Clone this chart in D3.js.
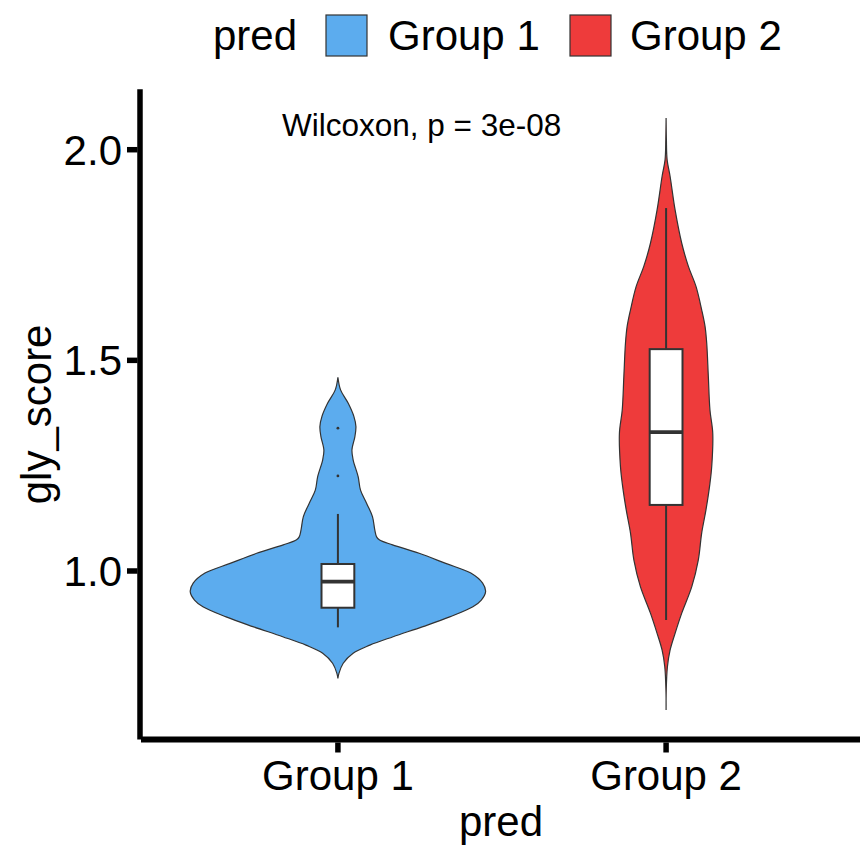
<!DOCTYPE html>
<html>
<head>
<meta charset="utf-8">
<script src="https://cdn.jsdelivr.net/npm/d3@7"></script>
<style>
  html, body { margin: 0; padding: 0; background: #fff; }
  svg { display: block; }
  text { font-family: "Liberation Sans", Arial, Helvetica, sans-serif; fill: #000; }
</style>
</head>
<body>
<svg id="chart" width="860" height="846"></svg>
<script>
// ---- data ----
const groups = ["Group 1", "Group 2"];
const groupFills = ["#5CACEE", "#EE3B3B"];
const yTicks = [1.0, 1.5, 2.0];

// violin outlines: gly_score values and relative density width (widest = 1)
const violin1Score = [1.460, 1.430, 1.398, 1.367, 1.343, 1.319, 1.287, 1.264, 1.224, 1.192, 1.161, 1.129, 1.097, 1.081, 1.074, 1.062, 1.042, 1.018, 0.995, 0.971, 0.951, 0.931, 0.915, 0.891, 0.868, 0.844, 0.824, 0.805, 0.781, 0.757, 0.745];
const violin1Width = [0, 0.018, 0.070, 0.108, 0.122, 0.115, 0.095, 0.103, 0.137, 0.153, 0.194, 0.234, 0.250, 0.262, 0.280, 0.370, 0.550, 0.730, 0.900, 0.980, 1.000, 0.971, 0.914, 0.757, 0.576, 0.374, 0.216, 0.103, 0.036, 0.007, 0];
const violin2Score = [2.075, 2.024, 1.976, 1.937, 1.857, 1.778, 1.723, 1.675, 1.620, 1.580, 1.541, 1.462, 1.382, 1.327, 1.248, 1.208, 1.145, 1.090, 1.026, 0.963, 0.900, 0.852, 0.812, 0.773, 0.717, 0.670];
const violin2Width = [0, 0.002, 0.007, 0.027, 0.061, 0.106, 0.151, 0.203, 0.241, 0.264, 0.275, 0.286, 0.297, 0.316, 0.309, 0.297, 0.270, 0.241, 0.218, 0.174, 0.106, 0.061, 0.027, 0.009, 0.001, 0];

// box plot statistics per group
const whiskerLow  = [0.8662, 0.8836];
const quart1      = [0.9128, 1.1568];
const medians     = [0.9746, 1.3295];
const quart3      = [1.0166, 1.5266];
const whiskerHigh = [1.1354, 1.8615];
const outliers    = [[1.2257, 1.339], []];

const testLabel = "Wilcoxon, p = 3e-08";

// ---- layout ----
const svg = d3.select("#chart");
const panel = { left: 141, right: 863, top: 89.3, bottom: 739.5 };
const ink = "#333333";
const baseSize = 42;

const x = d3.scalePoint().domain(groups).range([panel.left, panel.right]).padding(0.6);
const y = d3.scaleLinear().domain([0.6, 2.1434]).range([panel.bottom, panel.top]);
const step = x.step();
const halfMax = 0.45 * step;
const boxHalf = 0.05 * step;

function addText(g, str, tx, ty, size, anchor, rotate) {
  return g.append("text")
    .attr("transform", `translate(${tx},${ty})` + (rotate ? ` rotate(${rotate})` : ""))
    .attr("text-anchor", anchor)
    .style("font-size", size + "px")
    .text(str);
}

// ---- violins ----
const violins = [
  { score: violin1Score, width: violin1Width },
  { score: violin2Score, width: violin2Width }
];
const area = d3.area()
  .curve(d3.curveCatmullRom.alpha(0.5))
  .y(d => y(d.v));

violins.forEach((vl, i) => {
  const cx = x(groups[i]);
  const pts = vl.score.map((v, k) => ({ v, w: vl.width[k] }));
  area.x0(d => cx - d.w * halfMax).x1(d => cx + d.w * halfMax);
  svg.append("path")
    .datum(pts)
    .attr("d", area)
    .attr("fill", groupFills[i])
    .attr("stroke", ink)
    .attr("stroke-width", 1.2);
});

// ---- boxplots ----
groups.forEach((gname, i) => {
  const cx = x(gname);
  const g = svg.append("g");
  g.append("line")
    .attr("x1", cx).attr("x2", cx)
    .attr("y1", y(whiskerHigh[i])).attr("y2", y(quart3[i]))
    .attr("stroke", ink).attr("stroke-width", 2);
  g.append("line")
    .attr("x1", cx).attr("x2", cx)
    .attr("y1", y(quart1[i])).attr("y2", y(whiskerLow[i]))
    .attr("stroke", ink).attr("stroke-width", 2);
  g.append("rect")
    .attr("x", cx - boxHalf).attr("width", 2 * boxHalf)
    .attr("y", y(quart3[i])).attr("height", y(quart1[i]) - y(quart3[i]))
    .attr("fill", "#fff").attr("stroke", ink).attr("stroke-width", 2);
  g.append("line")
    .attr("x1", cx - boxHalf).attr("x2", cx + boxHalf)
    .attr("y1", y(medians[i])).attr("y2", y(medians[i]))
    .attr("stroke", ink).attr("stroke-width", 3.8);
  g.selectAll("circle").data(outliers[i]).join("circle")
    .attr("cx", cx).attr("cy", d => y(d)).attr("r", 1.4)
    .attr("fill", ink);
});

// ---- comparison label ----
addText(svg, testLabel, 421.7, 136, 31.5, "middle");

// ---- axes ----
const axisW = 5.5;
const yAxis = svg.append("g");
yAxis.append("line")
  .attr("x1", 140).attr("x2", 140)
  .attr("y1", panel.top).attr("y2", panel.bottom)
  .attr("stroke", "#000").attr("stroke-width", axisW);
yTicks.forEach(t => {
  yAxis.append("line")
    .attr("x1", 127).attr("x2", 137.5)
    .attr("y1", y(t)).attr("y2", y(t))
    .attr("stroke", "#000").attr("stroke-width", axisW);
  addText(yAxis, d3.format(".1f")(t), 122, y(t) + 15, baseSize, "end");
});

const xAxis = svg.append("g");
xAxis.append("line")
  .attr("x1", panel.left).attr("x2", panel.right)
  .attr("y1", panel.bottom).attr("y2", panel.bottom)
  .attr("stroke", "#000").attr("stroke-width", 6);
groups.forEach(gname => {
  xAxis.append("line")
    .attr("x1", x(gname)).attr("x2", x(gname))
    .attr("y1", panel.bottom + 3).attr("y2", panel.bottom + 13)
    .attr("stroke", "#000").attr("stroke-width", axisW);
  addText(xAxis, gname, x(gname), 790, baseSize, "middle");
});

// axis titles
addText(svg, "pred", (panel.left + panel.right) / 2 - 1, 836, baseSize, "middle");
addText(svg, "gly_score", 51, (panel.top + panel.bottom) / 2, baseSize, "middle", -90);

// ---- legend ----
const legend = svg.append("g");
addText(legend, "pred", 213, 50, baseSize, "start");
const keyX = [326, 570];
const labelX = [388, 630];
groups.forEach((gname, i) => {
  legend.append("rect")
    .attr("x", keyX[i]).attr("y", 15)
    .attr("width", 41).attr("height", 41)
    .attr("fill", groupFills[i])
    .attr("stroke", ink).attr("stroke-width", 1.2);
  addText(legend, gname, labelX[i], 50, baseSize, "start");
});
</script>
</body>
</html>
